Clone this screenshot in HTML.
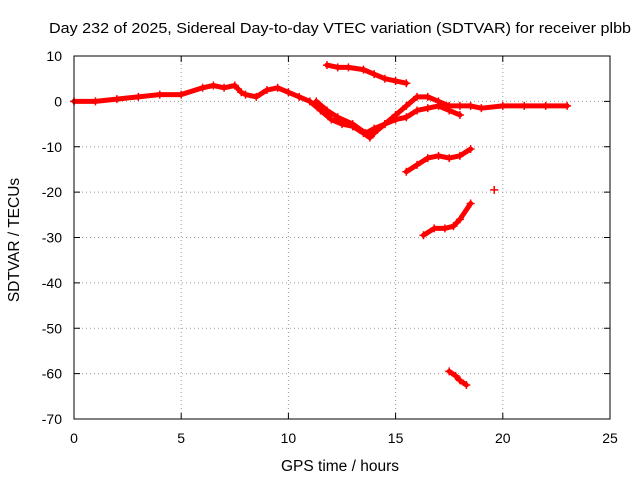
<!DOCTYPE html>
<html><head><meta charset="utf-8"><style>
body{margin:0;background:#fff;}
svg{display:block;font-family:"Liberation Sans",sans-serif;}
</style></head><body>
<svg id="chart" width="640" height="480" viewBox="0 0 640 480">
<text x="340" y="33" font-size="15" text-anchor="middle" textLength="582" lengthAdjust="spacingAndGlyphs">Day 232 of 2025, Sidereal Day-to-day VTEC variation (SDTVAR) for receiver plbb</text>
<text x="340" y="471" font-size="15.5" text-anchor="middle">GPS time / hours</text>
<text transform="translate(19,240) rotate(-90)" font-size="15.5" text-anchor="middle">SDTVAR / TECUs</text>
<g id="grid"></g>
<g id="ticks"></g>
<g id="series"></g>
<rect x="74" y="56" width="536" height="363" fill="none" stroke="#000" stroke-width="1"/>
</svg>
<script>
const xTicks=[0,5,10,15,20,25];
const yTicks=[10,0,-10,-20,-30,-40,-50,-60,-70];
const mainT=[0,1,2,3,4,5,6,6.5,7,7.5,7.8,8,8.5,9,9.5,10,10.5,11,11.5,12,12.5,13,13.5,13.8,14,14.5,15,15.5,16,16.5,17,17.5,18,18.5,19,20,21,22,23];
const mainV=[0,0,0.5,1,1.5,1.5,3,3.5,3,3.5,2,1.5,1,2.5,3,2,1,0,-2,-4,-5,-5.5,-7,-8,-7,-5,-3,-1,1,1,0,-1,-1,-1,-1.5,-1,-1,-1,-1];
const lowT=[11.3,11.8,12.3,13,13.6,14,14.5,15,15.5,16,16.5,17,17.5,18];
const lowV=[0,-2,-3.5,-5,-7,-6,-5,-4,-3.5,-2,-1.5,-1,-2,-3];
const topT=[11.8,12.3,12.8,13.5,14,14.5,15,15.5];
const topV=[8,7.5,7.5,7,6,5,4.5,4];
const b15T=[15.5,16,16.5,17,17.5,18,18.5];
const b15V=[-15.5,-14,-12.5,-12,-12.5,-12,-10.5];
const b28T=[16.3,16.8,17.3,17.7,18,18.5];
const b28V=[-29.5,-28,-28,-27.5,-26,-22.5];
const b60T=[17.5,17.8,18,18.3];
const b60V=[-59.5,-60.5,-61.5,-62.5];
const ptT=[19.6];
const ptV=[-19.5];
const NS="http://www.w3.org/2000/svg";
const X0=74,X1=610,Y0=56,Y1=419;
const xs=t=>X0+(t-0)/25*(X1-X0);
const ys=v=>Y0+(10-v)/80*(Y1-Y0);
function mk(tag,attrs,parent){const e=document.createElementNS(NS,tag);for(const k in attrs)e.setAttribute(k,attrs[k]);parent.appendChild(e);return e;}
const grid=document.getElementById('grid'),ticks=document.getElementById('ticks'),ser=document.getElementById('series');
xTicks.forEach(t=>{const x=xs(t);
 if(t>0&&t<25){const g=mk('line',{x1:x,x2:x,y1:Y0,y2:Y1,stroke:'#999','stroke-dasharray':'1,3'},grid);}
 mk('line',{x1:x,x2:x,y1:Y1,y2:Y1-6,stroke:'#000'},ticks);mk('line',{x1:x,x2:x,y1:Y0,y2:Y0+6,stroke:'#000'},ticks);
 const l=mk('text',{x:x,y:443,'font-size':14,'text-anchor':'middle'},ticks);l.textContent=t;
 });
yTicks.forEach(v=>{const y=ys(v);
 if(v<10&&v>-70){const g=mk('line',{x1:X0,x2:X1,y1:y,y2:y,stroke:'#999','stroke-dasharray':'1,3'},grid);}
 mk('line',{x1:X0,x2:X0+6,y1:y,y2:y,stroke:'#000'},ticks);mk('line',{x1:X1,x2:X1-6,y1:y,y2:y,stroke:'#000'},ticks);
 const l=mk('text',{x:62,y:y+5,'font-size':14,'text-anchor':'end'},ticks);l.textContent=v;
 });
function draw(T,V,name){
 const pts=T.map((t,i)=>xs(t)+','+ys(V[i])).join(' ');
 const p=mk('polyline',{points:pts,fill:'none',stroke:'#f00','stroke-width':5,'stroke-linejoin':'round','stroke-linecap':'round'},ser);
 
 
 T.forEach((t,i)=>{const x=xs(t),y=ys(V[i]);
  const m=mk('path',{d:`M${x-4},${y}H${x+4}M${x},${y-4}V${y+4}`,stroke:'#f00','stroke-width':1.5},ser);
  
  });
}
draw(mainT,mainV,'main-trace');
draw(lowT,lowV,'lower-branch');
draw(topT,topV,'top-branch');
draw(b15T,b15V,'branch-minus-12');
draw(b28T,b28V,'branch-minus-28');
draw(b60T,b60V,'branch-minus-60');
draw(ptT,ptV,'isolated-point');
</script>
</body></html>
